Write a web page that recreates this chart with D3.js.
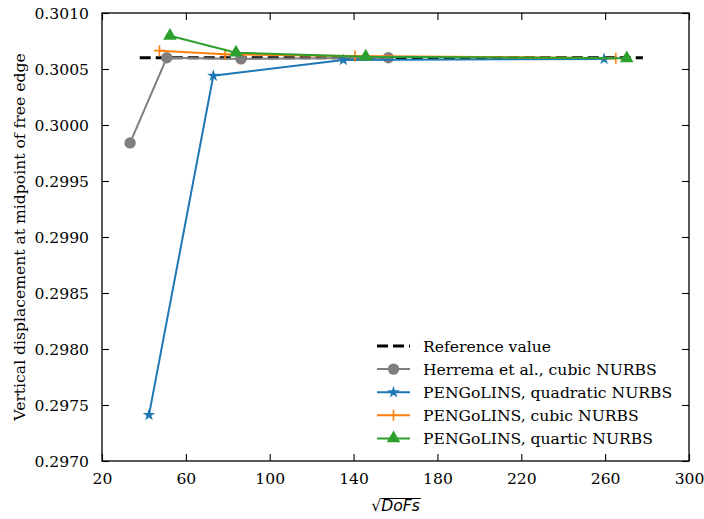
<!DOCTYPE html>
<html><head><meta charset="utf-8">
<script src="https://cdn.jsdelivr.net/npm/d3@7"></script>
<style>body{margin:0;background:#fff}svg{display:block}text{font-family:"DejaVu Serif",serif}</style>
</head><body><svg id="c" width="704" height="519"></svg>
<script>
const xTicks = [20, 60, 100, 140, 180, 220, 260, 300];
const yTicks = [0.2970, 0.2975, 0.2980, 0.2985, 0.2990, 0.2995, 0.3000, 0.3005, 0.3010];
const refX = [38, 278];
const refY = [0.30060, 0.30060];
const herremaX = [33.4, 50.9, 86.3, 156.6];
const herremaY = [0.29984, 0.30060, 0.30059, 0.30060];
const quadX = [42.4, 73.1, 135.1, 259.5];
const quadY = [0.29741, 0.30044, 0.30058, 0.30059];
const cubicX = [47.4, 78.7, 140.7, 265.1];
const cubicY = [0.300664, 0.300631, 0.300616, 0.300596];
const quarticX = [52.4, 83.9, 145.8, 270.3];
const quarticY = [0.300797, 0.300646, 0.30061, 0.300596];
const legendLabels = ["Reference value", "Herrema et al., cubic NURBS", "PENGoLINS, quadratic NURBS", "PENGoLINS, cubic NURBS", "PENGoLINS, quartic NURBS"];

const FS = 15.6;
const svg = d3.select("#c");
const L = 102, R = 689, T = 13, B = 461;
const x = d3.scaleLinear().domain([20, 300]).range([L, R]);
const y = d3.scaleLinear().domain([0.2970, 0.3010]).range([B, T]);

const series = [
  {xs: herremaX, ys: herremaY, color: "#7f7f7f", marker: "circle"},
  {xs: quadX, ys: quadY, color: "#1f77b4", marker: "star"},
  {xs: cubicX, ys: cubicY, color: "#ff7f0e", marker: "plus"},
  {xs: quarticX, ys: quarticY, color: "#2ca02c", marker: "triangle"}
];

function drawMarker(g, kind, color, cx, cy) {
  if (kind === "circle") {
    g.append("circle").attr("cx", cx).attr("cy", cy).attr("r", 5.7).attr("fill", color);
  } else if (kind === "star") {
    g.append("path").attr("d", d3.symbol(d3.symbolStar, 48)()).attr("transform", `translate(${cx},${cy})`).attr("fill", color);
  } else if (kind === "triangle") {
    g.append("path").attr("d", d3.symbol(d3.symbolTriangle, 80)()).attr("transform", `translate(${cx},${cy})`).attr("fill", color);
  } else if (kind === "plus") {
    g.append("path").attr("d", "M-5.5,0H5.5M0,-5.5V5.5").attr("transform", `translate(${cx},${cy})`).attr("stroke", color).attr("stroke-width", 1.6).attr("fill", "none");
  }
}

// axes
const gx = svg.append("g").attr("transform", `translate(0,${B})`)
  .call(d3.axisBottom(x).tickValues(xTicks).tickSizeInner(-7).tickSizeOuter(0).tickPadding(12).tickFormat(d3.format("d")));
const gxt = svg.append("g").attr("transform", `translate(0,${T})`)
  .call(d3.axisTop(x).tickValues(xTicks).tickSizeInner(-7).tickSizeOuter(0).tickFormat(""));
const gy = svg.append("g").attr("transform", `translate(${L},0)`)
  .call(d3.axisLeft(y).tickValues(yTicks).tickSizeInner(-7).tickSizeOuter(0).tickPadding(13).tickFormat(d3.format(".4f")));
const gyr = svg.append("g").attr("transform", `translate(${R},0)`)
  .call(d3.axisRight(y).tickValues(yTicks).tickSizeInner(-7).tickSizeOuter(0).tickFormat(""));
[gx, gxt, gy, gyr].forEach(g => {
  g.select(".domain").remove();
  g.selectAll(".tick line").attr("stroke", "#000").attr("stroke-width", 1.1);
  g.selectAll("text").attr("font-family", "DejaVu Serif").attr("font-size", FS).attr("fill", "#000");
});
svg.append("rect").attr("x", L).attr("y", T).attr("width", R - L).attr("height", B - T)
  .attr("fill", "none").attr("stroke", "#000").attr("stroke-width", 1.3);

// reference line
const line = d3.line().x(d => x(d[0])).y(d => y(d[1]));
svg.append("path").attr("d", line(refX.map((v, i) => [v, refY[i]])))
  .attr("stroke", "#000").attr("stroke-width", 3).attr("stroke-dasharray", "11,5").attr("fill", "none");

series.forEach(s => {
  const pts = s.xs.map((v, i) => [v, s.ys[i]]);
  const g = svg.append("g");
  g.append("path").attr("d", line(pts)).attr("stroke", s.color).attr("stroke-width", 2).attr("fill", "none");
  pts.forEach(p => drawMarker(g, s.marker, s.color, x(p[0]), y(p[1])));
});

// legend
const lg = svg.append("g");
legendLabels.forEach((lab, i) => {
  const yy = 346 + i * 23.1;
  if (i === 0) {
    lg.append("line").attr("x1", 377).attr("x2", 410).attr("y1", yy).attr("y2", yy)
      .attr("stroke", "#000").attr("stroke-width", 3).attr("stroke-dasharray", "11,5");
  } else {
    const s = series[i - 1];
    lg.append("line").attr("x1", 377).attr("x2", 410).attr("y1", yy).attr("y2", yy)
      .attr("stroke", s.color).attr("stroke-width", 2);
    drawMarker(lg, s.marker, s.color, 393.5, yy);
  }
  lg.append("text").attr("x", 423).attr("y", yy + 5.5).attr("font-size", FS).attr("fill", "#000").text(lab);
});

// axis labels
svg.append("text").attr("transform", `translate(25,${(T + B) / 2}) rotate(-90)`)
  .attr("text-anchor", "middle").attr("font-size", FS).attr("fill", "#000")
  .text("Vertical displacement at midpoint of free edge");

const xl = svg.append("text").attr("x", (L + R) / 2).attr("y", 511).attr("text-anchor", "middle")
  .attr("font-family", "DejaVu Sans").attr("font-size", FS).attr("fill", "#000");
xl.append("tspan").attr("font-family", "DejaVu Sans").text("\u221A");
const dt = xl.append("tspan").attr("font-family", "DejaVu Sans").attr("font-style", "italic").text("DoFs");
const bb = xl.node().getBBox();
svg.append("line").attr("x1", bb.x + 10).attr("x2", bb.x + bb.width + 1).attr("y1", bb.y + 1.5).attr("y2", bb.y + 1.5)
  .attr("stroke", "#000").attr("stroke-width", 1);
</script></body></html>
